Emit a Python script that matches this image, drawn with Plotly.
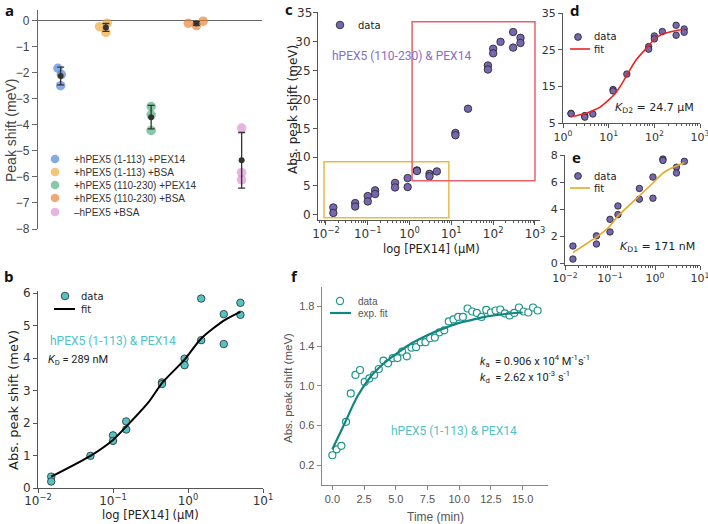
import plotly.graph_objects as go

W, H = 708, 524

# ---------------- data ----------------
# panel a
a_labels = ["+hPEX5 (1-113) +PEX14", "+hPEX5 (1-113) +BSA", "+hPEX5 (110-230) +PEX14",
            "+hPEX5 (110-230) +BSA", "\u2013hPEX5 +BSA"]
a_points = [[-1.82, -2.06, -2.49],
            [-0.22, -0.09, -0.44],
            [-3.29, -3.61, -4.21],
            [-0.09, -0.18, -0.01],
            [-4.12, -5.83, -6.11]]
a_jitter = [[-0.06, 0.015, 0.0],
            [-0.14, 0.03, 0.0],
            [0.0, 0.0, 0.0],
            [-0.18, 0.0, 0.15],
            [0.0, 0.0, 0.0]]
a_mean = [-2.12, -0.25, -3.70, -0.10, -5.36]
a_err = [0.34, 0.15, 0.45, 0.07, 1.07]
a_colors = ["rgba(70,125,215,0.65)", "rgba(240,165,45,0.65)", "rgba(55,165,105,0.6)",
            "rgba(230,125,45,0.65)", "rgba(215,130,205,0.6)"]
a_yticks = [0, -1, -2, -3, -4, -5, -6, -7, -8]

# panel b
b_conc = [0.015, 0.015, 0.05, 0.1, 0.1, 0.15, 0.15, 0.45, 0.45, 0.9, 0.9, 1.5, 1.5, 3.0, 3.0, 5.0, 5.0]
b_shift = [0.35, 0.2, 0.99, 1.62, 1.45, 2.05, 1.8, 3.25, 3.2, 3.98, 3.78, 5.83, 4.55, 5.35, 4.43, 5.7, 5.33]
b_fit_x = [0.015, 0.05, 0.1, 0.15, 0.3, 0.45, 0.9, 1.5, 3.0, 5.0]
b_fit_y = [0.35, 0.99, 1.48, 1.89, 2.65, 3.23, 3.95, 4.6, 5.15, 5.42]

# panels c, d, e
conc_low = [0.015, 0.015, 0.05, 0.05, 0.1, 0.1, 0.15, 0.15, 0.45, 0.45, 0.9, 0.9, 1.5, 1.5, 3.0, 3.0, 4.5]
shift_low = [1.28, 0.32, 2.03, 1.43, 3.25, 2.32, 4.24, 3.6, 5.53, 4.74, 6.37, 4.81, 7.7, 7.6, 7.1, 6.67, 7.53]
conc_high = [12.5, 12.5, 25, 75, 75, 100, 100, 150, 300, 300, 450, 450]
shift_high = [14.2, 13.8, 18.4, 25.9, 25.2, 28.8, 28.0, 30.0, 31.7, 29.0, 30.7, 29.8]
d_fit_x = [1.5, 3.0, 6.5, 13.5, 20, 26, 40, 72, 100, 155, 309, 450]
d_fit_y = [6.8, 7.6, 9.4, 12.9, 16.0, 18.5, 22.3, 25.9, 27.9, 29.4, 30.3, 30.6]
e_fit_x = [0.015, 0.05, 0.1, 0.15, 0.45, 0.9, 1.5, 3.0, 4.5]
e_fit_y = [0.79, 1.93, 2.76, 3.5, 4.99, 5.93, 6.67, 7.2, 7.45]
low_box = dict(x0=0.009, x1=8.7, y0=-0.5, y1=9.2)
high_box = dict(x0=1.15, x1=1000, y0=5.9, y1=33.5)
c_yticks = [0, 5, 10, 15, 20, 25, 30, 35]
d_yticks = [5, 15, 25, 35]

# panel f
f_time = [0, 0.34, 0.71, 1.08, 1.45, 1.82, 2.18, 2.55, 2.92, 3.29, 3.66, 4.03, 4.39, 4.76, 5.13,
          5.5, 5.87, 6.24, 6.6, 6.97, 7.34, 7.71, 8.08, 8.45, 8.82, 9.18, 9.55, 9.92, 10.29, 10.66,
          11.03, 11.39, 11.76, 12.13, 12.5, 12.87, 13.24, 13.6, 13.97, 14.34, 14.71, 15.08, 15.45,
          15.82, 16.18]
f_shift = [0.30, 0.36, 0.395, 0.637, 0.924, 1.11, 1.16, 1.04, 1.075, 1.11, 1.17, 1.255, 1.227, 1.28,
           1.28, 1.345, 1.298, 1.385, 1.39, 1.44, 1.44, 1.48, 1.487, 1.54, 1.56, 1.65, 1.67, 1.695,
           1.695, 1.78, 1.75, 1.736, 1.695, 1.766, 1.74, 1.76, 1.77, 1.73, 1.71, 1.736, 1.79, 1.75,
           1.74, 1.79, 1.76]
f_fit_t = [0, 1, 2, 3, 4, 5, 6, 7, 8, 9, 10, 11, 12, 13, 14, 15]
f_fit_y = [0.36, 0.63, 0.90, 1.09, 1.22, 1.32, 1.41, 1.48, 1.54, 1.59, 1.635, 1.665, 1.695, 1.715, 1.73, 1.74]
f_xticks = [0, 2.5, 5, 7.5, 10, 12.5, 15]
f_yticks = [0.2, 0.6, 1.0, 1.4, 1.8]

log_ticks_b = [0.01, 0.1, 1, 10]
log_text_b = ["10<sup>\u22122</sup>", "10<sup>\u22121</sup>", "10<sup>0</sup>", "10<sup>1</sup>"]
log_ticks_c = [0.01, 0.1, 1, 10, 100, 1000]
log_text_c = ["10<sup>\u22122</sup>", "10<sup>\u22121</sup>", "10<sup>0</sup>", "10<sup>1</sup>",
              "10<sup>2</sup>", "10<sup>3</sup>"]
log_ticks_d = [1, 10, 100, 1000]
log_text_d = ["10<sup>0</sup>", "10<sup>1</sup>", "10<sup>2</sup>", "10<sup>3</sup>"]

# ---------------- helpers ----------------
def dom_x(l, r):
    return [l / W, r / W]

def dom_y(top, bottom):
    return [1 - bottom / H, 1 - top / H]

def PX(p):
    return p / W

def PY(p):
    return 1 - p / H

TEAL = "#55c2c4"
TEAL_TXT = "#4fc3c6"
PURPLE = "#7766b0"
PURPLE_TXT = "#8a6cc6"
FTEAL = "#1e958c"
DV = "DejaVu Sans"
LS = "Liberation Sans"
OS = "Open Sans"
RB = "Roboto"

fig = go.Figure()

# ---- panel a ----
for i in range(5):
    fig.add_trace(go.Scatter(
        x=[i + j for j in a_jitter[i]], y=a_points[i], mode="markers",
        marker=dict(size=9.5, color=a_colors[i], line=dict(width=0)),
        xaxis="x", yaxis="y", cliponaxis=False, showlegend=False))
fig.add_trace(go.Scatter(
    x=list(range(5)), y=a_mean, mode="markers",
    marker=dict(size=6, color="#333333"),
    error_y=dict(type="data", array=a_err, color="#333333", thickness=1.3, width=3.5),
    xaxis="x", yaxis="y", cliponaxis=False, showlegend=False))

# ---- panel b ----
fig.add_trace(go.Scatter(
    x=b_conc, y=b_shift, mode="markers",
    marker=dict(size=7.5, color=TEAL, line=dict(width=0.8, color="#2a2a2a")),
    xaxis="x2", yaxis="y2", cliponaxis=False, showlegend=False))
fig.add_trace(go.Scatter(
    x=b_fit_x, y=b_fit_y, mode="lines", line=dict(color="black", width=2, shape="spline", smoothing=0.7),
    xaxis="x2", yaxis="y2", showlegend=False))

# ---- panel c ----
fig.add_trace(go.Scatter(
    x=conc_low + conc_high, y=shift_low + shift_high, mode="markers",
    marker=dict(size=7.5, color=PURPLE, line=dict(width=0.8, color="#222222")),
    xaxis="x3", yaxis="y3", cliponaxis=False, showlegend=False))

# ---- panel d ----
fig.add_trace(go.Scatter(
    x=conc_low[12:] + conc_high, y=shift_low[12:] + shift_high, mode="markers",
    marker=dict(size=6.5, color=PURPLE, line=dict(width=0.8, color="#222222")),
    xaxis="x4", yaxis="y4", cliponaxis=False, showlegend=False))
fig.add_trace(go.Scatter(
    x=d_fit_x, y=d_fit_y, mode="lines", line=dict(color="#ee2222", width=1.6, shape="spline", smoothing=0.5),
    xaxis="x4", yaxis="y4", showlegend=False))

# ---- panel e ----
fig.add_trace(go.Scatter(
    x=conc_low, y=shift_low, mode="markers",
    marker=dict(size=6.5, color=PURPLE, line=dict(width=0.8, color="#222222")),
    xaxis="x5", yaxis="y5", cliponaxis=False, showlegend=False))
fig.add_trace(go.Scatter(
    x=e_fit_x, y=e_fit_y, mode="lines", line=dict(color="#e8a820", width=1.6, shape="spline", smoothing=0.4),
    xaxis="x5", yaxis="y5", showlegend=False))

# ---- panel f ----
fig.add_trace(go.Scatter(
    x=f_time, y=f_shift, mode="markers",
    marker=dict(size=7, color="white", line=dict(width=1.2, color=FTEAL)),
    xaxis="x6", yaxis="y6", cliponaxis=False, showlegend=False))
fig.add_trace(go.Scatter(
    x=f_fit_t, y=f_fit_y, mode="lines", line=dict(color="#12857c", width=2.2, shape="spline"),
    xaxis="x6", yaxis="y6", showlegend=False))

# ---------------- axes ----------------
def minor_log(lo, hi):
    vals = []
    for k in range(lo, hi):
        for m in range(2, 10):
            vals.append(m * 10 ** k)
    return dict(tickmode="array", tickvals=vals, ticks="outside", ticklen=2,
                tickcolor="#555", tickwidth=0.8, showgrid=False)

def base_axis(**kw):
    d = dict(showline=True, linecolor="#555", linewidth=1.1, ticks="outside", ticklen=4,
             tickcolor="#555", tickwidth=1, showgrid=False, zeroline=False, automargin=False,
             ticklabeloverflow="allow")
    d.update(kw)
    return d

C_TOP = 35.2   # top of panel c's y range
C_PX = 5.766   # pixels per meV in panel c
c_ticktext = [str(v) for v in c_yticks[:-1]] + [""]   # top label drawn as annotation below

fig.update_layout(
    width=W, height=H, margin=dict(l=0, r=0, t=0, b=0, pad=0, autoexpand=False),
    paper_bgcolor="white", plot_bgcolor="white", showlegend=False,
    xaxis=dict(domain=dom_x(38, 262), range=[-0.5, 4.45], visible=False, anchor="y", automargin=False),
    yaxis=base_axis(domain=dom_y(10, 229), range=[-8, 0.42], anchor="x", tickmode="array",
                    tickvals=a_yticks, ticklen=5, linecolor="#666", tickcolor="#666",
                    tickfont=dict(family=LS, size=12, color="#444"),
                    zeroline=True, zerolinecolor="#666", zerolinewidth=1.4),
    xaxis2=base_axis(domain=dom_x(38, 263), type="log", range=[-2, 1], anchor="y2",
                     tickmode="array", tickvals=log_ticks_b, ticktext=log_text_b,
                     ticklabelstandoff=-2,
                     tickfont=dict(family=DV, size=12, color="#333")),
    yaxis2=base_axis(domain=dom_y(291.4, 488), range=[0, 6.05], anchor="x2", dtick=1,
                     tickfont=dict(family=DV, size=12, color="#333")),
    xaxis3=base_axis(domain=dom_x(318, 540), type="log", range=[-2.19, 3.12], anchor="y3",
                     tickmode="array", tickvals=log_ticks_c, ticktext=log_text_c,
                     minor=minor_log(-3, 3), ticklabelstandoff=-1,
                     tickfont=dict(family=DV, size=12, color="#333")),
    yaxis3=base_axis(domain=dom_y(220 - (C_TOP + 0.9) * C_PX, 220), range=[-0.9, C_TOP], anchor="x3",
                     tickmode="array", tickvals=c_yticks, ticktext=c_ticktext,
                     tickfont=dict(family=DV, size=12, color="#333")),
    xaxis4=base_axis(domain=dom_x(563, 700), type="log", range=[0, 3], anchor="y4",
                     tickmode="array", tickvals=log_ticks_d, ticktext=log_text_d,
                     minor=minor_log(0, 3), ticklabelstandoff=-1,
                     tickfont=dict(family=DV, size=11, color="#333")),
    yaxis4=base_axis(domain=dom_y(13, 123.3), range=[5, 35.05], anchor="x4", tickmode="array",
                     tickvals=d_yticks, tickfont=dict(family=DV, size=11, color="#333")),
    xaxis5=base_axis(domain=dom_x(565, 700), type="log", range=[-2, 1], anchor="y5",
                     tickmode="array", tickvals=log_ticks_b, ticktext=log_text_b,
                     minor=minor_log(-2, 1), ticklabelstandoff=-1,
                     tickfont=dict(family=DV, size=11, color="#333")),
    yaxis5=base_axis(domain=dom_y(155, 265), range=[-0.12, 8], anchor="x5", dtick=2,
                     tickfont=dict(family=DV, size=11, color="#333")),
    xaxis6=base_axis(domain=dom_x(321.7, 548), range=[-0.84, 17.0], anchor="y6", tickmode="array",
                     tickvals=f_xticks, tickformat=".1f", linecolor="#888", tickcolor="#888",
                     tickfont=dict(family=LS, size=11, color="#555")),
    yaxis6=base_axis(domain=dom_y(286.7, 485), range=[0, 2.0], anchor="x6", tickmode="array",
                     tickvals=f_yticks, tickformat=".1f", linecolor="#888", tickcolor="#888",
                     tickfont=dict(family=LS, size=11, color="#555")),
)

# ---------------- shapes ----------------
shapes = []
shapes.append(dict(type="rect", xref="x3", yref="y3", line=dict(color="#e9b949", width=1.5),
                   fillcolor="rgba(0,0,0,0)", **low_box))
shapes.append(dict(type="rect", xref="x3", yref="y3", line=dict(color="#e8606a", width=1.5),
                   fillcolor="rgba(0,0,0,0)", **high_box))

def circ(cx, cy, r, fill, edge=None, ew=0.8):
    return dict(type="circle", xref="paper", yref="paper",
                x0=PX(cx - r), x1=PX(cx + r), y0=PY(cy + r), y1=PY(cy - r),
                fillcolor=fill, line=dict(color=edge or fill, width=ew if edge else 0))

def seg(x0, x1, y, color, w=2):
    return dict(type="line", xref="paper", yref="paper", x0=PX(x0), x1=PX(x1), y0=PY(y), y1=PY(y),
                line=dict(color=color, width=w))

# legend a
a_rows = [159, 172, 185, 198, 212]
for i, yy in enumerate(a_rows):
    shapes.append(circ(55, yy, 4.3, a_colors[i]))
# legend b
shapes.append(circ(65, 296, 3.8, TEAL, "#2a2a2a"))
shapes.append(seg(54, 75, 309, "black", 2))
# legend c
shapes.append(circ(340, 25, 3.8, PURPLE, "#222"))
# legend d
shapes.append(circ(578, 37, 3.4, PURPLE, "#222"))
shapes.append(seg(570, 590, 49, "#ee2222", 1.6))
# legend e
shapes.append(circ(578, 176, 3.4, PURPLE, "#222"))
shapes.append(seg(570, 590, 188, "#e8a820", 1.6))
# legend f
shapes.append(circ(340, 301, 3.6, "white", FTEAL, 1.2))
shapes.append(seg(330, 351, 313, "#12857c", 2.2))
fig.update_layout(shapes=shapes)

# ---------------- annotations ----------------
anns = []

def ann(text, x, y, size, color="#222", family=DV, xanchor="left", angle=0, bold=False):
    if bold:
        text = "<b>" + text + "</b>"
    anns.append(dict(text=text, x=PX(x), y=PY(y), xref="paper", yref="paper", showarrow=False,
                     xanchor=xanchor, yanchor="middle", textangle=angle,
                     font=dict(family=family, size=size, color=color)))

# panel letters
ann("a", 3, 10, 15, "#111", OS, bold=True)
ann("b", 2, 276, 15, "#111", OS, bold=True)
ann("c", 283, 9, 15, "#111", OS, bold=True)
ann("d", 568, 10, 15, "#111", OS, bold=True)
ann("e", 570, 157, 15, "#111", OS, bold=True)
ann("f", 289, 276, 15, "#111", OS, bold=True)

# panel a
for i, yy in enumerate(a_rows):
    ann(a_labels[i], 72, yy, 10, "#333", LS)
ann("Peak shift (meV)", 11, 131, 14, "#444", LS, xanchor="center", angle=-90)

# panel b
ann("data", 79, 296, 10, "#222", DV)
ann("fit", 79, 309, 10, "#222", DV)
ann("hPEX5 (1-113) &amp; PEX14", 48, 341, 12, TEAL_TXT, RB)
ann("<i>K</i><sub>D</sub> = 289 nM", 46, 360, 11, "#222", RB)
ann("Abs. peak shift (meV)", 13, 400, 13, "#222", DV, xanchor="center", angle=-90)
ann("log [PEX14] (\u00b5M)", 150, 515, 11.5, "#222", DV, xanchor="center")

# panel c
anns.append(dict(text=str(c_yticks[-1]), x=PX(313.5), y=c_yticks[-1], xref="paper", yref="y3",
                 showarrow=False, xanchor="right", yanchor="middle",
                 font=dict(family=DV, size=12, color="#333")))
ann("data", 356, 25, 10, "#222", DV)
ann("hPEX5 (110-230) &amp; PEX14", 330, 56, 12, PURPLE_TXT, RB)
ann("Abs. peak shift (meV)", 293, 110, 12, "#222", DV, xanchor="center", angle=-90)
ann("log [PEX14] (\u00b5M)", 431, 249, 11.5, "#222", DV, xanchor="center")

# panel d
ann("data", 592, 37, 10, "#222", DV)
ann("fit", 592, 49, 10, "#222", DV)
ann("<i>K</i><sub>D2</sub> = 24.7 \u00b5M", 613, 108, 11, "#222", DV)

# panel e
ann("data", 592, 176, 10, "#222", DV)
ann("fit", 592, 188, 10, "#222", DV)
ann("<i>K</i><sub>D1</sub> = 171 nM", 618, 247, 11, "#222", DV)

# panel f
ann("data", 356, 301, 10, "#555", LS)
ann("exp. fit", 356, 313, 10, "#555", LS)
ann("<i>k</i><sub>a</sub>  = 0.906 x 10<sup>4</sup> M<sup>-1</sup>s<sup>-1</sup>", 478, 361, 11, "#222", RB)
ann("<i>k</i><sub>d</sub>  = 2.62 x 10<sup>-3</sup> s<sup>-1</sup>", 478, 377, 11, "#222", RB)
ann("hPEX5 (1-113) &amp; PEX14", 389, 431, 12, TEAL_TXT, RB)
ann("Abs. peak shift (meV)", 288, 388, 11.5, "#555", LS, xanchor="center", angle=-90)
ann("Time (min)", 435, 517, 12, "#555", LS, xanchor="center")

fig.update_layout(annotations=anns)

fig.write_html("out.html")
